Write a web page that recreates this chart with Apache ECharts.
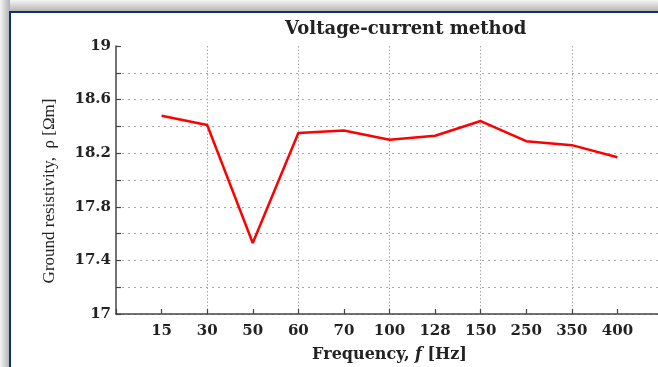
<!DOCTYPE html>
<html>
<head>
<meta charset="utf-8">
<script src="https://cdn.jsdelivr.net/npm/echarts@6/dist/echarts.min.js"></script>
<style>
html,body{margin:0;padding:0;background:#fff;overflow:hidden;}
#chart{width:658px;height:367px;}
</style>
</head>
<body>
<div id="chart"></div>
<script>
const categories = ['15','30','50','60','70','100','128','150','250','350','400'];
const resistivity = [18.48,18.41,17.53,18.35,18.37,18.30,18.33,18.44,18.29,18.26,18.17];
const yTickLabels = ['17','17.4','17.8','18.2','18.6','19'];
const titleText = 'Voltage-current method';

const xData = [''].concat(categories, ['']);
const seriesData = [null].concat(resistivity);

const chart = echarts.init(document.getElementById('chart'), null, {renderer:'canvas'});
chart.setOption({
  animation: false,
  backgroundColor: '#ffffff',
  graphic: [{
    type: 'rect', z: -10, silent: true,
    shape: {x: 0, y: 0, width: 700, height: 12},
    style: {fill: new echarts.graphic.LinearGradient(0, 0, 0, 1, [
      {offset: 0, color: 'rgba(245,245,245,1)'},
      {offset: 1, color: 'rgba(175,175,175,1)'}
    ])}
  }, {
    type: 'rect', z: -10, silent: true,
    shape: {x: 0, y: 0, width: 10, height: 400},
    style: {fill: new echarts.graphic.LinearGradient(0, 0, 1, 0, [
      {offset: 0, color: 'rgba(245,245,245,1)'},
      {offset: 1, color: 'rgba(175,175,175,1)'}
    ])}
  }, {
    type: 'polyline', z: -9, silent: true,
    shape: {points: [[10, 400], [10, 12], [700, 12]]},
    style: {fill: null, stroke: '#102f78', lineWidth: 2}
  }],
  title: {
    text: titleText,
    left: 285, top: 20, padding: 0,
    textStyle: {fontFamily: 'DejaVu Serif', fontWeight: 'bold', fontSize: 18, color: '#222'}
  },
  grid: {left: 116, top: 46, width: 547, height: 268, containLabel: false, outerBoundsMode: 'none'},
  xAxis: {
    type: 'category',
    data: xData,
    boundaryGap: false,
    name: 'Frequency, {i|f} [Hz]',
    nameLocation: 'middle',
    nameGap: 33,
    nameTextStyle: {
      fontFamily: 'DejaVu Serif', fontWeight: 'bold', fontSize: 16, color: '#222',
      rich: {i: {fontFamily: 'DejaVu Serif', fontStyle: 'italic', fontWeight: 'bold', fontSize: 16, color: '#222'}}
    },
    axisLine: {lineStyle: {color: '#444', width: 1.5}},
    axisTick: {inside: true, length: 5, interval: 0, lineStyle: {color: '#444', width: 1.2}},
    axisLabel: {interval: 0, margin: 10, fontFamily: 'DejaVu Serif', fontWeight: 'bold', fontSize: 15, color: '#222'},
    splitLine: {
      show: true,
      interval: function (idx) { return idx > 0 && idx < xData.length - 1 && idx % 2 === 0; },
      lineStyle: {color: '#a8a8a8', width: 1, type: [1.5, 2]}
    }
  },
  yAxis: {
    type: 'value',
    min: 17, max: 19, interval: 0.2,
    name: 'Ground resistivity,  ρ [Ωm]',
    nameLocation: 'middle',
    nameGap: 58,
    nameTextStyle: {fontFamily: 'Liberation Serif', fontSize: 17, color: '#222', padding: [0, 22, 0, 0]},
    axisLine: {show: true, lineStyle: {color: '#444', width: 1.5}},
    axisTick: {show: true, inside: true, length: 5, lineStyle: {color: '#444', width: 1.2}},
    axisLabel: {
      margin: 5, fontFamily: 'DejaVu Serif', fontWeight: 'bold', fontSize: 15, color: '#222',
      formatter: function (v) {
        const s = String(+Number(v).toFixed(1));
        return yTickLabels.indexOf(s) >= 0 ? s : '';
      }
    },
    splitLine: {show: true, showMaxLine: false, lineStyle: {color: '#a8a8a8', width: 1, type: [2, 4]}}
  },
  series: [{
    type: 'line',
    data: seriesData,
    showSymbol: false,
    symbol: 'none',
    lineStyle: {color: '#ff0000', width: 2.5},
    z: 5
  }]
});
</script>
</body>
</html>
